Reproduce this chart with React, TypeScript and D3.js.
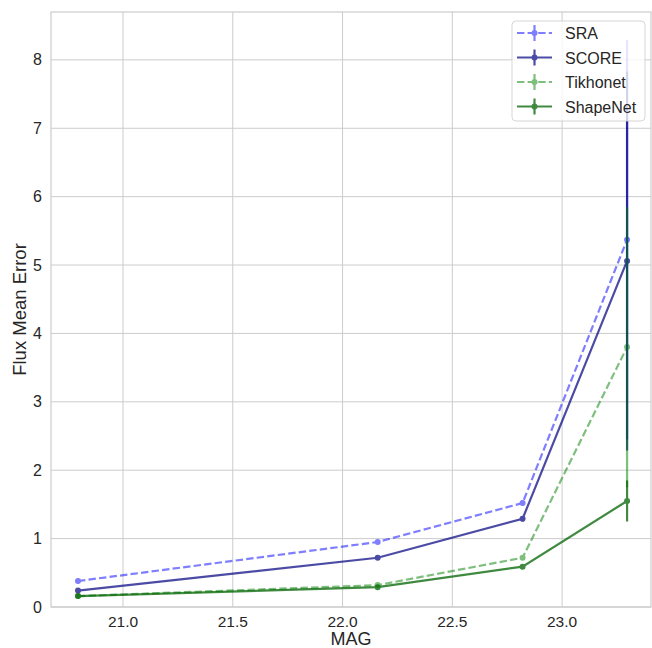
import React from "react";
import * as d3 from "d3";

const mags = [20.795, 22.16, 22.82, 23.296];
const seriesNames = ["SRA", "SCORE", "Tikhonet", "ShapeNet"];
const sraValues = [0.38, 0.95, 1.52, 5.37];
const sraErrors = [0.02, 0.03, 0.04, 2.92];
const scoreValues = [0.24, 0.72, 1.29, 5.06];
const scoreErrors = [0.02, 0.03, 0.04, 2.77];
const tikhonetValues = [0.16, 0.32, 0.72, 3.8];
const tikhonetErrors = [0.01, 0.02, 0.03, 2.05];
const shapenetValues = [0.16, 0.29, 0.59, 1.55];
const shapenetErrors = [0.01, 0.02, 0.03, 0.3];
const xTicks = [21.0, 21.5, 22.0, 22.5, 23.0];
const yTicks = [0, 1, 2, 3, 4, 5, 6, 7, 8];

const styles = [
  { color: "#0000ff", opacity: 0.5, dash: "7.4,3.2" },
  { color: "#000080", opacity: 0.7, dash: "" },
  { color: "#008000", opacity: 0.5, dash: "7.4,3.2" },
  { color: "#006400", opacity: 0.75, dash: "" },
];

const W = 652;
const H = 648;
const left = 51;
const right = 651;
const top = 12;
const bottom = 607;
const FONT = "'Liberation Sans', Arial, sans-serif";

export default function App() {
  const x = d3.scaleLinear().domain([20.672, 23.405]).range([left, right]);
  const y = d3.scaleLinear().domain([0, 8.7]).range([bottom, top]);
  const series = [
    { name: seriesNames[0], v: sraValues, e: sraErrors },
    { name: seriesNames[1], v: scoreValues, e: scoreErrors },
    { name: seriesNames[2], v: tikhonetValues, e: tikhonetErrors },
    { name: seriesNames[3], v: shapenetValues, e: shapenetErrors },
  ];
  const line = d3
    .line<number>()
    .x((_, i) => x(mags[i]))
    .y((d) => y(d));

  const legX = 512;
  const legY = 21;
  const rowH = 24.5;

  return (
    <svg
      width={W}
      height={H}
      style={{ position: "absolute", left: 0, top: 0, background: "#fff" }}
      fontFamily={FONT}
    >
      <rect x={0} y={0} width={W} height={H} fill="#fff" />
      {xTicks.map((t) => (
        <line key={"gx" + t} x1={x(t)} x2={x(t)} y1={top} y2={bottom} stroke="#cccccc" strokeWidth={1} />
      ))}
      {yTicks.map((t) => (
        <line key={"gy" + t} x1={left} x2={right} y1={y(t)} y2={y(t)} stroke="#cccccc" strokeWidth={1} />
      ))}
      <rect x={left} y={top} width={right - left} height={bottom - top} fill="none" stroke="#cccccc" strokeWidth={1.2} />
      {xTicks.map((t) => (
        <text key={"tx" + t} x={x(t)} y={bottom + 19.5} textAnchor="middle" fontSize={15.5} fill="#262626">
          {t.toFixed(1)}
        </text>
      ))}
      {yTicks.map((t) => (
        <text key={"ty" + t} x={left - 9} y={y(t) + 5.5} textAnchor="end" fontSize={16} fill="#262626">
          {t}
        </text>
      ))}
      <text x={(left + right) / 2} y={645} textAnchor="middle" fontSize={18} fill="#262626">
        MAG
      </text>
      <text
        transform={`translate(26,${(top + bottom) / 2}) rotate(-90)`}
        textAnchor="middle"
        fontSize={18.5}
        fill="#262626"
      >
        Flux Mean Error
      </text>
      {series.map((s, si) => {
        const st = styles[si];
        return (
          <g key={s.name} opacity={st.opacity}>
            <path d={line(s.v) || ""} fill="none" stroke={st.color} strokeWidth={2.2} strokeDasharray={st.dash} />
            {s.v.map((v, i) => (
              <line
                key={"e" + i}
                x1={x(mags[i])}
                x2={x(mags[i])}
                y1={y(v - s.e[i])}
                y2={y(v + s.e[i])}
                stroke={st.color}
                strokeWidth={2.2}
              />
            ))}
            {s.v.map((v, i) => (
              <circle key={"m" + i} cx={x(mags[i])} cy={y(v)} r={3} fill={st.color} />
            ))}
          </g>
        );
      })}
      <g>
        <rect
          x={legX}
          y={legY}
          width={133}
          height={100}
          rx={4}
          fill="#ffffff"
          fillOpacity={0.8}
          stroke="#cccccc"
          strokeOpacity={0.8}
          strokeWidth={1}
        />
        {series.map((s, si) => {
          const st = styles[si];
          const cy = legY + 12 + si * rowH;
          return (
            <g key={"lg" + s.name}>
              <g opacity={st.opacity}>
                <line x1={legX + 5} x2={legX + 40} y1={cy} y2={cy} stroke={st.color} strokeWidth={2.2} strokeDasharray={st.dash} />
                <line x1={legX + 22.5} x2={legX + 22.5} y1={cy - 8} y2={cy + 8} stroke={st.color} strokeWidth={2.2} />
                <circle cx={legX + 22.5} cy={cy} r={3} fill={st.color} />
              </g>
              <text x={legX + 53} y={cy + 6} fontSize={16} fill="#262626">
                {s.name}
              </text>
            </g>
          );
        })}
      </g>
    </svg>
  );
}
